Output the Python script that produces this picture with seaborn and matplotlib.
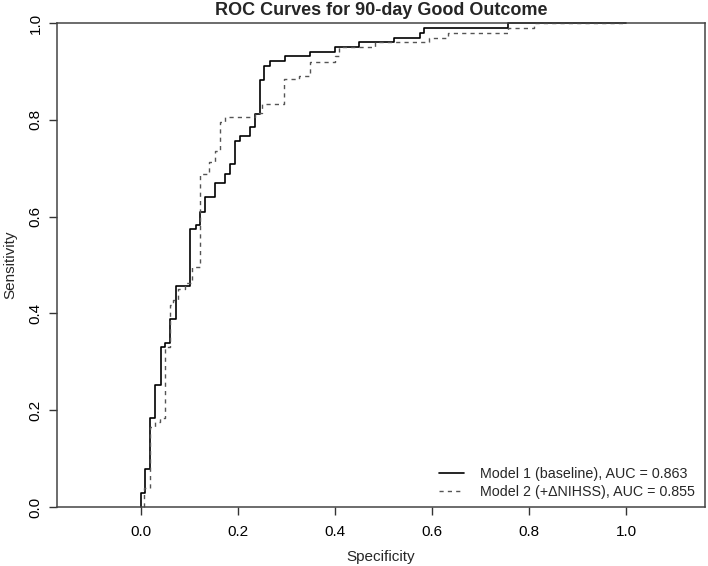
import matplotlib
matplotlib.use("Agg")
import matplotlib.pyplot as plt
import seaborn as sns
import numpy as np
import pandas as pd

# ROC step corners (x = "Specificity" axis as drawn, y = Sensitivity)
m1_x = [0.0, 0.0, 0.008, 0.019, 0.029, 0.041, 0.050, 0.060, 0.072, 0.101, 0.113,
        0.122, 0.132, 0.153, 0.173, 0.184, 0.194, 0.204, 0.225, 0.235, 0.245,
        0.254, 0.266, 0.297, 0.348, 0.400, 0.450, 0.522, 0.575, 0.584, 0.757, 1.0]
m1_y = [0.0, 0.028, 0.078, 0.183, 0.252, 0.330, 0.339, 0.388, 0.457, 0.574, 0.582,
        0.610, 0.640, 0.669, 0.689, 0.709, 0.757, 0.767, 0.786, 0.813, 0.882,
        0.912, 0.921, 0.932, 0.941, 0.950, 0.960, 0.970, 0.980, 0.989, 1.0, 1.0]

m2_x = [0.007, 0.007, 0.019, 0.029, 0.039, 0.049, 0.060, 0.067, 0.077, 0.091,
        0.105, 0.122, 0.141, 0.153, 0.163, 0.173, 0.235, 0.249, 0.295, 0.326,
        0.348, 0.399, 0.409, 0.482, 0.594, 0.634, 0.757, 0.810, 1.0]
m2_y = [0.0, 0.039, 0.166, 0.176, 0.183, 0.331, 0.417, 0.428, 0.450, 0.462,
        0.496, 0.688, 0.713, 0.736, 0.796, 0.805, 0.815, 0.833, 0.884, 0.890,
        0.920, 0.932, 0.950, 0.960, 0.970, 0.980, 0.989, 1.0, 1.0]

labels = ["Model 1 (baseline), AUC = 0.863", "Model 2 (+\u0394NIHSS), AUC = 0.855"]
title = "ROC Curves for 90-day Good Outcome"
ticks = [0.0, 0.2, 0.4, 0.6, 0.8, 1.0]
tick_labels = ["0.0", "0.2", "0.4", "0.6", "0.8", "1.0"]

sns.set_theme(style="white")
plt.rcParams["font.family"] = ["Liberation Sans", "DejaVu Sans"]

fig = plt.figure(figsize=(7.08, 5.66), dpi=100)
ax = fig.add_axes([57 / 708, 59 / 566, 648 / 708, 484 / 566])

sns.lineplot(x=m1_x, y=m1_y, estimator=None, sort=False, ax=ax,
             drawstyle="steps-post", color="black", linewidth=1.2,
             clip_on=False)
sns.lineplot(x=m2_x, y=m2_y, estimator=None, sort=False, ax=ax,
             drawstyle="steps-post", color="#555555", linewidth=1.0,
             clip_on=False)
lines = ax.get_lines()
lines[1].set_dashes((3, 3))

ax.set_xlim(-0.1732, 1.1629)
ax.set_ylim(0, 1)
ax.set_xticks(ticks)
ax.set_xticklabels(tick_labels, fontsize=11)
ax.set_yticks(ticks)
ax.set_yticklabels(tick_labels, fontsize=11, rotation=90, va="center")
ax.tick_params(axis="both", direction="out", length=5.5, width=1, color="#333333",
               labelcolor="black", bottom=True, left=True)
ax.tick_params(axis="x", pad=7.5)
ax.tick_params(axis="y", pad=5)
for s in ax.spines.values():
    s.set_visible(True)
    s.set_color("#444444")
    s.set_linewidth(1.1)

ax.set_xlabel("Specificity", fontsize=11, labelpad=8)
ax.set_ylabel("Sensitivity", fontsize=11, labelpad=8)
ax.set_title(title, fontsize=13, fontweight="bold", pad=6)

leg = ax.legend(handles=lines[:2], labels=labels, loc="lower right",
                bbox_to_anchor=(1.004, -0.01), frameon=False, fontsize=10.3,
                handlelength=1.75, handletextpad=1.1, labelspacing=0.28)

fig.savefig("out.png", dpi=100)
